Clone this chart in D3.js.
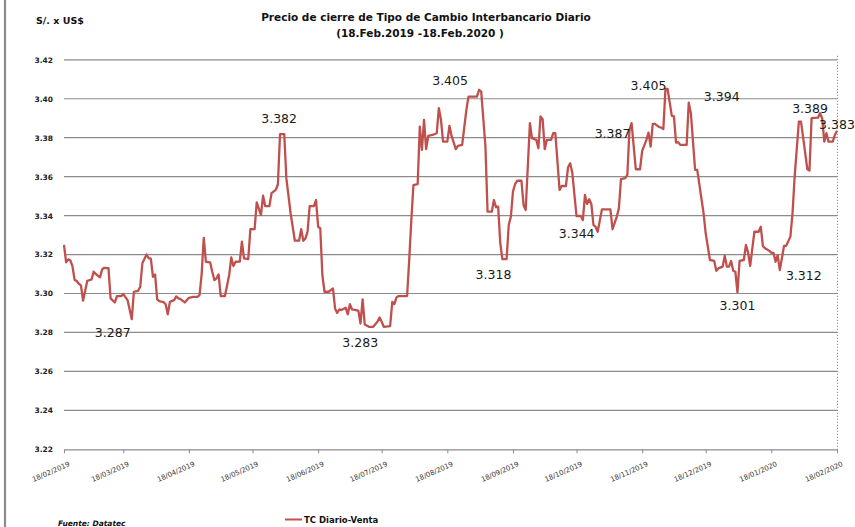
<!DOCTYPE html>
<html>
<head>
<meta charset="utf-8">
<script src="https://cdn.jsdelivr.net/npm/d3@7"></script>
<style>
  body { margin: 0; background: #fff; }
  svg { display: block; }
</style>
</head>
<body>
<div id="vis"></div>
<script>
// TC interbancario diario, venta
const dates = [
  "2019-02-18","2019-02-19","2019-02-20","2019-02-21","2019-02-22","2019-02-23","2019-02-24","2019-02-25","2019-02-26","2019-02-27",
  "2019-03-01","2019-03-03","2019-03-04","2019-03-05","2019-03-07","2019-03-08","2019-03-09","2019-03-11","2019-03-12","2019-03-14","2019-03-15","2019-03-17","2019-03-18","2019-03-20","2019-03-22","2019-03-23","2019-03-25","2019-03-26","2019-03-27","2019-03-29","2019-03-30","2019-03-31",
  "2019-04-01","2019-04-02","2019-04-03","2019-04-04","2019-04-06","2019-04-07","2019-04-08","2019-04-09","2019-04-11","2019-04-12","2019-04-13","2019-04-14","2019-04-16","2019-04-18","2019-04-20","2019-04-22","2019-04-23","2019-04-24","2019-04-25","2019-04-26","2019-04-28","2019-04-29","2019-04-30",
  "2019-05-01","2019-05-02","2019-05-03","2019-05-05","2019-05-07","2019-05-08","2019-05-09","2019-05-10","2019-05-12","2019-05-13","2019-05-14","2019-05-16","2019-05-17","2019-05-19","2019-05-20","2019-05-22","2019-05-23","2019-05-24","2019-05-26","2019-05-27","2019-05-29","2019-05-30","2019-05-31",
  "2019-06-02","2019-06-03","2019-06-05","2019-06-07","2019-06-09","2019-06-10","2019-06-11","2019-06-12","2019-06-13","2019-06-14","2019-06-16","2019-06-17","2019-06-18","2019-06-19","2019-06-20","2019-06-21","2019-06-23","2019-06-25","2019-06-26","2019-06-27","2019-06-28","2019-06-29",
  "2019-07-01","2019-07-02","2019-07-03","2019-07-04","2019-07-06","2019-07-07","2019-07-08","2019-07-09","2019-07-10","2019-07-12","2019-07-14","2019-07-16","2019-07-17","2019-07-18","2019-07-19","2019-07-22","2019-07-23","2019-07-24","2019-07-25","2019-07-26","2019-07-30","2019-07-31",
  "2019-08-01","2019-08-02","2019-08-04","2019-08-05","2019-08-06","2019-08-07","2019-08-08","2019-08-09","2019-08-11","2019-08-13","2019-08-14","2019-08-15","2019-08-16","2019-08-18","2019-08-19","2019-08-20","2019-08-22","2019-08-23","2019-08-25","2019-08-27","2019-08-28",
  "2019-09-01","2019-09-02","2019-09-03","2019-09-05","2019-09-06","2019-09-08","2019-09-09","2019-09-10","2019-09-11","2019-09-12","2019-09-13","2019-09-15","2019-09-16","2019-09-17","2019-09-18","2019-09-19","2019-09-20","2019-09-22","2019-09-23","2019-09-24","2019-09-26","2019-09-27","2019-09-29","2019-09-30",
  "2019-10-01","2019-10-02","2019-10-03","2019-10-04","2019-10-06","2019-10-07","2019-10-08","2019-10-10","2019-10-11","2019-10-13","2019-10-14","2019-10-15","2019-10-16","2019-10-18","2019-10-20","2019-10-21","2019-10-22","2019-10-23","2019-10-24","2019-10-25","2019-10-26","2019-10-27","2019-10-28","2019-10-30",
  "2019-11-03","2019-11-04","2019-11-06","2019-11-07","2019-11-08","2019-11-10","2019-11-11","2019-11-12","2019-11-13","2019-11-15","2019-11-17","2019-11-18","2019-11-20","2019-11-21","2019-11-22","2019-11-23","2019-11-24","2019-11-26","2019-11-27","2019-11-28","2019-11-29","2019-11-30",
  "2019-12-02","2019-12-03","2019-12-04","2019-12-05","2019-12-06","2019-12-09","2019-12-10","2019-12-11","2019-12-13","2019-12-14","2019-12-17","2019-12-18","2019-12-20","2019-12-22","2019-12-23","2019-12-24","2019-12-26","2019-12-27","2019-12-28","2019-12-29","2019-12-30","2019-12-31",
  "2020-01-01","2020-01-02","2020-01-03","2020-01-05","2020-01-06","2020-01-07","2020-01-08","2020-01-10","2020-01-12","2020-01-13","2020-01-14","2020-01-15","2020-01-17","2020-01-18","2020-01-19","2020-01-20","2020-01-21","2020-01-22","2020-01-24","2020-01-25","2020-01-27","2020-01-28","2020-01-29","2020-01-31",
  "2020-02-01","2020-02-03","2020-02-04","2020-02-05","2020-02-06","2020-02-09","2020-02-10","2020-02-11","2020-02-12","2020-02-13","2020-02-14","2020-02-16","2020-02-17","2020-02-18"
];
const tcVenta = [
  3.325,3.316,3.3175,3.317,3.314,3.307,3.3064,3.305,3.3042,3.2963,
  3.3065,3.3072,3.3112,3.31,3.3083,3.3124,3.3132,3.313,3.2975,3.2954,3.2987,3.2987,3.2997,3.2966,3.2868,3.3009,3.3014,3.3035,3.3155,3.32,3.3181,3.3179,
  3.3086,3.3098,3.297,3.2961,3.2956,3.2945,3.2893,3.2957,3.2966,3.2985,3.2975,3.2971,3.2954,3.2978,3.2983,3.2983,3.2992,3.31,3.3286,3.3163,3.316,3.3112,3.3069,
  3.3078,3.3098,3.2987,3.2987,3.3095,3.3185,3.3141,3.3163,3.3164,3.3266,3.318,3.3177,3.333,3.3331,3.3468,3.3403,3.3502,3.3449,3.3449,3.3515,3.3532,3.3561,3.3818,
  3.3818,3.3591,3.3412,3.3271,3.3271,3.333,3.3271,3.3283,3.3317,3.3449,3.3449,3.348,3.3343,3.3335,3.3095,3.3009,3.3009,3.3026,3.2923,3.29,3.2918,3.2915,
  3.2927,3.2893,3.2945,3.2918,3.2915,3.2911,3.2846,3.297,3.2841,3.2829,3.2829,3.2855,3.2877,3.2855,3.2829,3.2832,3.2957,3.2945,3.298,3.2987,3.2987,3.3172,
  3.3377,3.3557,3.3562,3.3857,3.3737,3.3892,3.3741,3.3809,3.3814,3.3823,3.3952,3.3892,3.378,3.378,3.3861,3.3809,3.3741,3.3758,3.3763,3.3943,3.4011,
  3.4011,3.4046,3.4037,3.3754,3.342,3.342,3.348,3.3443,3.3446,3.3258,3.3177,3.3177,3.3352,3.3394,3.3523,3.3562,3.3579,3.3579,3.3454,3.3429,3.3875,3.3797,3.3789,3.3746,
  3.3909,3.3895,3.3741,3.3789,3.3789,3.3823,3.3823,3.3532,3.3552,3.3552,3.3648,3.3669,3.3621,3.3398,3.3398,3.3377,3.3506,3.346,3.3484,3.346,3.3352,3.3343,3.3317,3.3432,
  3.3432,3.333,3.3394,3.3437,3.3587,3.3592,3.3609,3.384,3.3875,3.3638,3.3638,3.3732,3.3789,3.3826,3.3754,3.3871,3.3871,3.3855,3.3852,3.3844,3.4051,3.4051,
  3.3912,3.3909,3.3775,3.3777,3.3763,3.3763,3.398,3.3926,3.3635,3.3635,3.3412,3.3309,3.3172,3.3168,3.3117,3.3129,3.3138,3.3194,3.3138,3.3138,3.3167,3.3117,
  3.3112,3.3006,3.3168,3.3172,3.3249,3.3211,3.3142,3.3317,3.3317,3.3343,3.3244,3.3232,3.322,3.3209,3.3209,3.3163,3.3197,3.312,3.3245,3.3245,3.3292,3.3412,3.36,3.3883,
  3.3883,3.372,3.3638,3.3631,3.39,3.3903,3.3926,3.39,3.378,3.3823,3.378,3.378,3.3814,3.3836
];

const tickDates = ["18/02/2019","18/03/2019","18/04/2019","18/05/2019","18/06/2019","18/07/2019","18/08/2019",
                   "18/09/2019","18/10/2019","18/11/2019","18/12/2019","18/01/2020","18/02/2020"];
const yTicks = [3.22, 3.24, 3.26, 3.28, 3.30, 3.32, 3.34, 3.36, 3.38, 3.40, 3.42];

// point labels written on the chart
const labelDates = ["2019-03-22","2019-06-01","2019-07-14","2019-09-02","2019-09-14","2019-10-28","2019-11-13",
                    "2019-11-29","2019-12-10","2020-01-02","2020-01-22","2020-02-10","2020-02-18"];
const labelTexts = ["3.287","3.382","3.283","3.405","3.318","3.344","3.387","3.405","3.394","3.301","3.312","3.389","3.383"];
const labelOffsets = [[-19,18],[-3,-11],[-13,20],[-29,-4],[-11,21],[-21,30],[-19,14],[-17,1],[33,-9],[0,18.5],[24,10],[-10,-7],[0,-3]];

const width = 855, height = 527;
const plotLeft = 64, plotRight = 837, plotTop = 59.8, plotBottom = 449.3;
const lineColor = "#c0504d";

const parseIso = d3.timeParse("%Y-%m-%d");
const parseTick = d3.timeParse("%d/%m/%Y");
const data = dates.map((d, i) => ({ date: parseIso(d), value: tcVenta[i] }));

const svg = d3.select("#vis").append("svg")
    .attr("width", width)
    .attr("height", height);

const x = d3.scaleTime()
    .domain([parseTick("18/02/2019"), parseTick("18/02/2020")])
    .range([plotLeft, plotRight]);
const y = d3.scaleLinear().domain([3.22, 3.42]).range([plotBottom, plotTop]);

// soft glow under the gridlines
const defs = svg.append("defs");
defs.append("filter").attr("id", "glow")
    .attr("x", "-5%").attr("y", "-200%").attr("width", "110%").attr("height", "500%")
  .append("feGaussianBlur").attr("stdDeviation", 2.5);

// left page border
svg.append("line")
    .attr("x1", 5).attr("x2", 5).attr("y1", 0).attr("y2", height)
    .attr("stroke", "#8a8a8a").attr("stroke-width", 2.2);

// titles
svg.append("text")
    .attr("x", 36).attr("y", 24)
    .attr("font-family", "DejaVu Sans").attr("font-weight", "bold").attr("font-size", 9.5)
    .attr("fill", "#111")
    .text("S/. x US$");
svg.append("text")
    .attr("x", 426).attr("y", 20.5).attr("text-anchor", "middle")
    .attr("font-family", "DejaVu Sans").attr("font-weight", "bold").attr("font-size", 10.5)
    .attr("fill", "#111")
    .text("Precio de cierre de Tipo de Cambio Interbancario Diario");
svg.append("text")
    .attr("x", 420).attr("y", 36.5).attr("text-anchor", "middle")
    .attr("font-family", "DejaVu Sans").attr("font-weight", "bold").attr("font-size", 10.5)
    .attr("fill", "#111")
    .text("(18.Feb.2019 -18.Feb.2020 )");

// gridlines
const grid = svg.append("g");
grid.selectAll("line.glow")
    .data(yTicks.slice(1))
    .join("line")
    .attr("class", "glow")
    .attr("x1", plotLeft).attr("x2", plotRight)
    .attr("y1", d => y(d)).attr("y2", d => y(d))
    .attr("stroke", "#d9e0ee").attr("stroke-width", 10)
    .attr("filter", "url(#glow)");
grid.selectAll("line.grid")
    .data(yTicks.slice(1))
    .join("line")
    .attr("class", "grid")
    .attr("x1", plotLeft).attr("x2", plotRight)
    .attr("y1", d => y(d)).attr("y2", d => y(d))
    .attr("stroke", "#8c8c8c").attr("stroke-width", 1.2);

// y labels
const yAxis = svg.append("g")
    .attr("transform", `translate(${plotLeft},0)`)
    .call(d3.axisLeft(y).tickValues(yTicks).tickFormat(d3.format(".2f")).tickSize(0).tickPadding(11));
yAxis.select(".domain").remove();
yAxis.selectAll("text")
    .attr("font-family", "DejaVu Sans").attr("font-weight", "bold").attr("font-size", 7.5)
    .attr("fill", "#222");

// right dotted border
svg.append("line")
    .attr("x1", plotRight + 0.5).attr("x2", plotRight + 0.5).attr("y1", plotTop - 4).attr("y2", plotBottom + 4)
    .attr("stroke", "#777").attr("stroke-width", 1).attr("stroke-dasharray", "1,2");

// x axis
const xAxis = svg.append("g")
    .attr("transform", `translate(0,${plotBottom})`)
    .call(d3.axisBottom(x).tickValues(tickDates.map(parseTick)).tickFormat(d3.timeFormat("%d/%m/%Y"))
        .tickSizeInner(4).tickSizeOuter(0));
xAxis.select(".domain").attr("stroke", "#8c8c8c").attr("stroke-width", 1.2);
xAxis.selectAll(".tick line").attr("stroke", "#8c8c8c");
xAxis.selectAll("text")
    .attr("font-family", "DejaVu Sans").attr("font-size", 7).attr("fill", "#333")
    .attr("text-anchor", "end")
    .attr("dy", 0)
    .attr("transform", "translate(3,10) rotate(-24)");

// series line
const line = d3.line()
    .x(d => x(d.date))
    .y(d => y(d.value));
svg.append("path")
    .datum(data)
    .attr("d", line)
    .attr("fill", "none")
    .attr("stroke", lineColor)
    .attr("stroke-width", 2.3)
    .attr("stroke-linejoin", "round");

// value labels
svg.append("g").selectAll("text")
    .data(labelTexts)
    .join("text")
    .attr("x", (d, i) => x(parseIso(labelDates[i])) + labelOffsets[i][0])
    .attr("y", (d, i) => y(+d) + labelOffsets[i][1])
    .attr("text-anchor", "middle")
    .attr("font-family", "DejaVu Sans").attr("font-size", 12.5)
    .attr("fill", "#1a1a1a")
    .text(d => d);

// legend
svg.append("line")
    .attr("x1", 285).attr("x2", 302).attr("y1", 519.5).attr("y2", 519.5)
    .attr("stroke", lineColor).attr("stroke-width", 2);
svg.append("text")
    .attr("x", 304).attr("y", 523)
    .attr("font-family", "DejaVu Sans").attr("font-weight", "bold").attr("font-size", 8.5)
    .attr("fill", "#111")
    .text("TC Diario-Venta");

// source
svg.append("text")
    .attr("x", 58).attr("y", 525.5)
    .attr("font-family", "DejaVu Sans").attr("font-weight", "bold").attr("font-style", "italic")
    .attr("font-size", 7.5).attr("fill", "#111")
    .text("Fuente: Datatec");
</script>
</body>
</html>
